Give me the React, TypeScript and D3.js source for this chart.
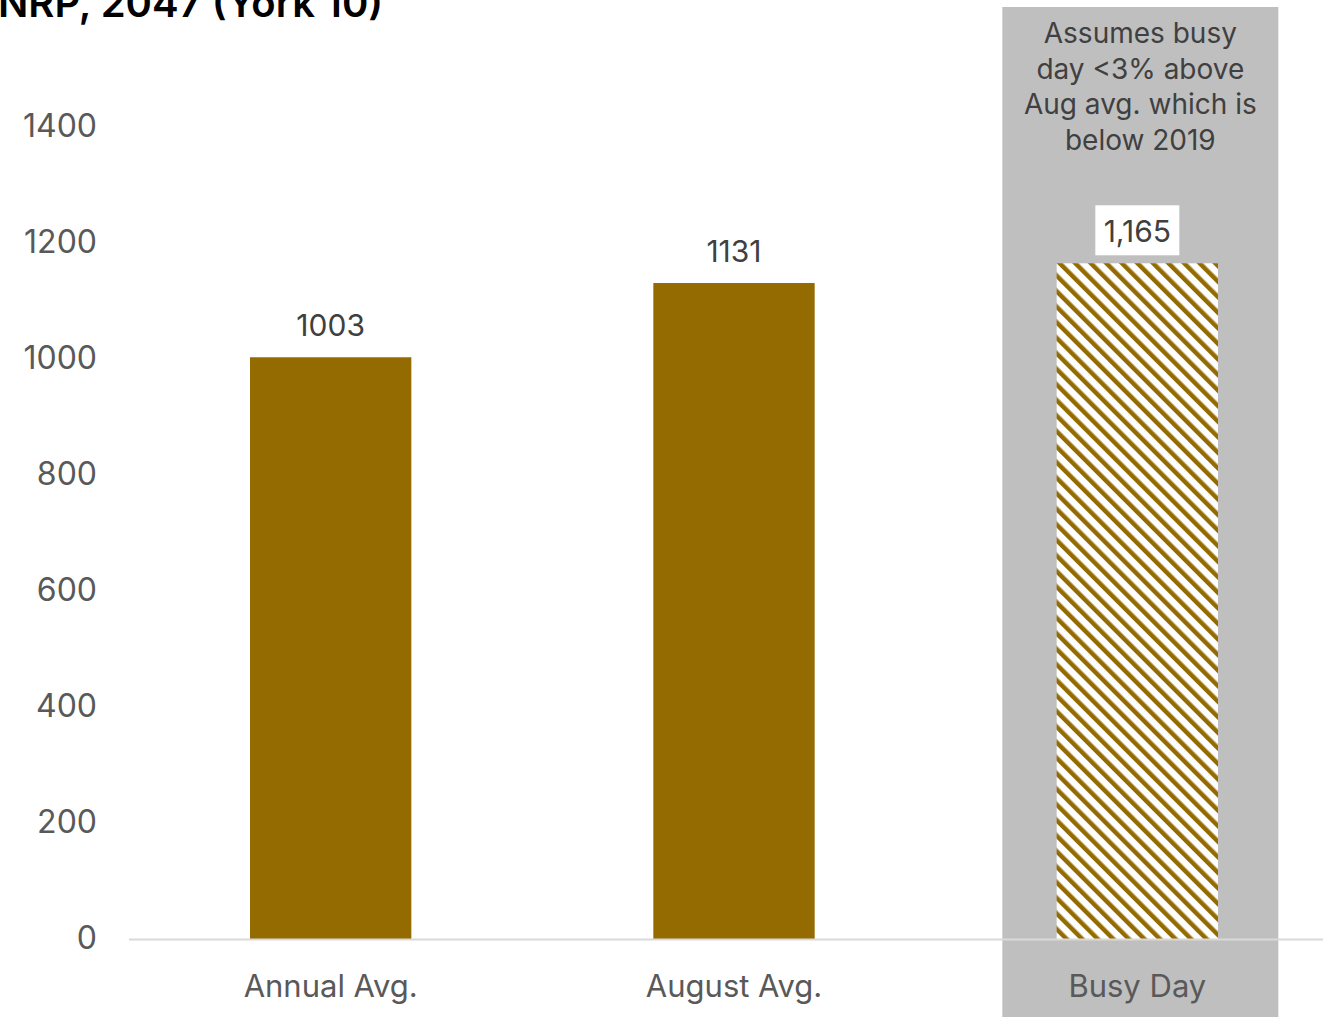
import React from "react";
import * as d3 from "d3";

const categories = ["Annual Avg.", "August Avg.", "Busy Day"];
const values = [1003, 1131, 1165];
const valueLabels = ["1003", "1131", "1,165"];
const yTicks = [0, 200, 400, 600, 800, 1000, 1200, 1400];
const annotationLines = ["Assumes busy", "day <3% above", "Aug avg. which is", "below 2019"];
const title = "NRP, 2047 (York 10)";

const W = 1323;
const H = 1017;
const BROWN = "#946b00";
const FONT = "Inter, 'DejaVu Sans', sans-serif";

export default function App() {
  const y = d3.scaleLinear().domain([0, 1600]).range([939, 11]);
  const x = d3.scaleBand<string>().domain(categories).range([129, 1339]).paddingInner(0).paddingOuter(0);
  const bw = x.bandwidth() * 0.4;
  const busyCenter = (x("Busy Day") as number) + x.bandwidth() / 2;

  return (
    <svg width={W} height={H} style={{ position: "absolute", left: 0, top: 0, background: "#fff" }}>
      <defs>
        <pattern id="hatch" patternUnits="userSpaceOnUse" width={11} height={11} patternTransform="rotate(-45)">
          <rect width={11} height={11} fill="#fff" />
          <rect x={0} y={0} width={4.5} height={11} fill={BROWN} />
        </pattern>
      </defs>
      {/* highlighted column background */}
      <rect x={busyCenter + 3 - 138} y={7} width={276} height={H - 7} fill="#bfbfbf" />
      {/* title */}
      <text x={-2} y={17} fontFamily={FONT} fontWeight={600} fontSize={40} fill="#000">{title}</text>
      {/* y tick labels */}
      {yTicks.map((t) => (
        <text key={t} x={97} y={y(t) - 2} dy="0.36em" textAnchor="end" fontFamily={FONT} fontSize={32} fill="#595959">
          {t}
        </text>
      ))}
      {/* bars */}
      {categories.map((c, i) => {
        const cx = (x(c) as number) + x.bandwidth() / 2;
        return (
          <rect
            key={c}
            x={cx - bw / 2}
            y={y(values[i])}
            width={bw}
            height={y(0) - y(values[i])}
            fill={i === 2 ? "url(#hatch)" : BROWN}
          />
        );
      })}
      {/* axis line */}
      <line x1={129} x2={W} y1={939.5} y2={939.5} stroke="#d9d9d9" strokeWidth={2} />
      {/* value labels */}
      {categories.map((c, i) => {
        const cx = (x(c) as number) + x.bandwidth() / 2;
        const ly = y(values[i]) - 32;
        return (
          <g key={c}>
            {i === 2 && <rect x={cx - 42} y={ly - 26} width={84} height={50} fill="#fff" />}
            <text x={cx} y={ly} dy="0.36em" textAnchor="middle" fontFamily={FONT} fontSize={30} fill="#404040">
              {valueLabels[i]}
            </text>
          </g>
        );
      })}
      {/* category labels */}
      {categories.map((c) => (
        <text
          key={c}
          x={(x(c) as number) + x.bandwidth() / 2}
          y={986}
          dy="0.36em"
          textAnchor="middle"
          fontFamily={FONT}
          fontSize={31}
          fill="#595959"
        >
          {c}
        </text>
      ))}
      {/* annotation */}
      {annotationLines.map((l, i) => (
        <text key={i} x={busyCenter + 3} y={33 + i * 35.5} dy="0.36em" textAnchor="middle" fontFamily={FONT} fontSize={28} fill="#404040">
          {l}
        </text>
      ))}
    </svg>
  );
}
